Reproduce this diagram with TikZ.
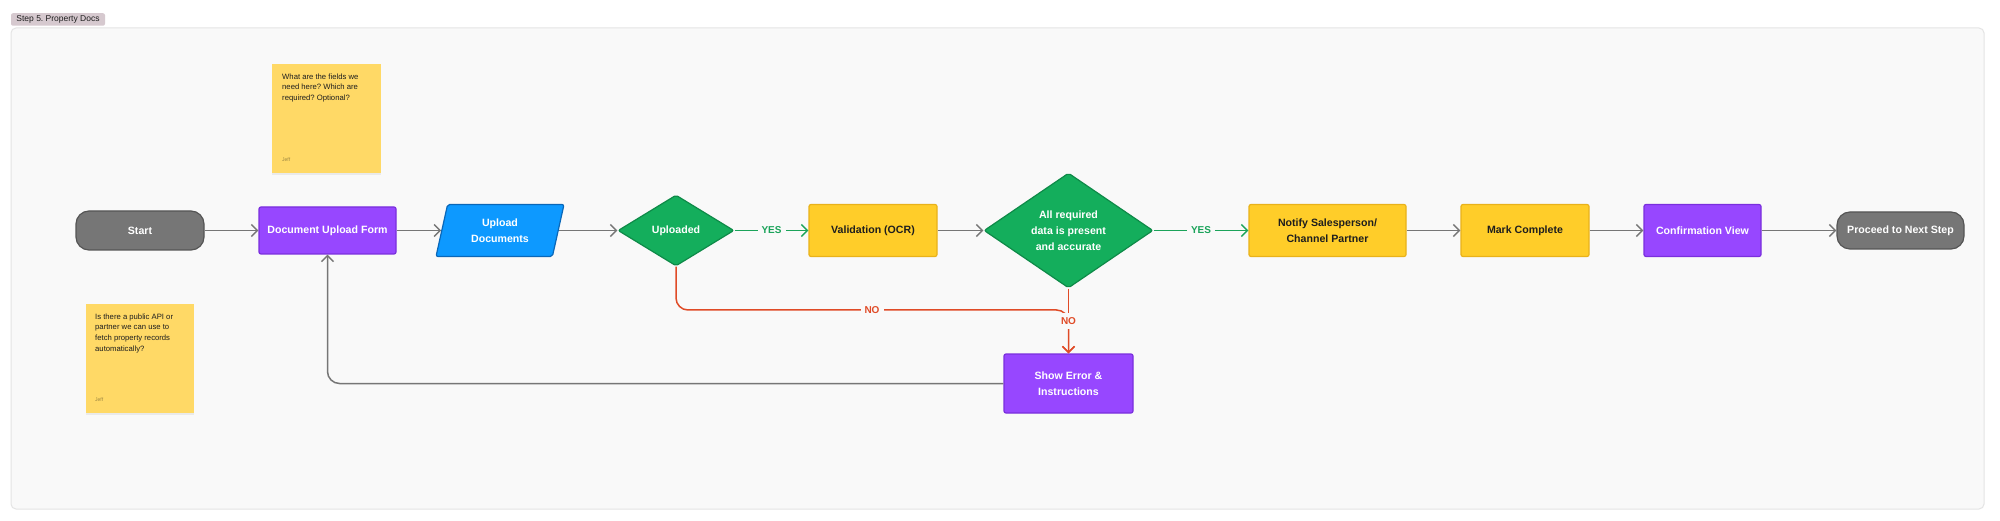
\documentclass[tikz,border=0pt]{standalone}
\usepackage{fontspec}
\setmainfont{Liberation Sans}
\usetikzlibrary{shapes.geometric,arrows.meta,shadows}
\frenchspacing
\definecolor{framefill}{HTML}{F9F9F9}
\definecolor{framedraw}{HTML}{E4E4E4}
\definecolor{lblfill}{HTML}{D6C9CF}
\definecolor{txtdark}{HTML}{1E1E1E}
\definecolor{termfill}{HTML}{767676}
\definecolor{termdraw}{HTML}{555555}
\definecolor{purpfill}{HTML}{9747FF}
\definecolor{purpdraw}{HTML}{7A2FDD}
\definecolor{yelfill}{HTML}{FFCD29}
\definecolor{yeldraw}{HTML}{E9B21A}
\definecolor{bluefill}{HTML}{0D99FF}
\definecolor{bluedraw}{HTML}{0A67B8}
\definecolor{grnfill}{HTML}{14AE5C}
\definecolor{grndraw}{HTML}{0E8A48}
\definecolor{grnline}{HTML}{1BA35A}
\definecolor{redline}{HTML}{E04B27}
\definecolor{arrgray}{HTML}{767676}
\definecolor{stickyfill}{HTML}{FFD966}
\definecolor{jeffcol}{HTML}{9A8440}
\tikzset{
  base/.style={font=\bfseries\fontsize{10.6}{16}\selectfont, align=center, line width=1.2pt, inner sep=0pt},
  termbox/.style={base, rounded corners=13pt, fill=termfill, draw=termdraw, text=white},
  purpbox/.style={base, rounded corners=2pt, fill=purpfill, draw=purpdraw, text=white},
  yelbox/.style={base, rounded corners=2pt, fill=yelfill, draw=yeldraw, text=txtdark},
  parabox/.style={base, trapezium, trapezium left angle=64, trapezium right angle=116,
     trapezium stretches body, rounded corners=2pt, fill=bluefill, draw=bluedraw, text=white},
  decision/.style={base, diamond, rounded corners=2pt, fill=grnfill, draw=grndraw, text=white},
  sticky/.style={fill=stickyfill, draw=none, inner sep=0pt,
     drop shadow={opacity=0.12, shadow xshift=0pt, shadow yshift=-2pt}},
  stickytext/.style={font=\fontsize{7.7}{10.7}\selectfont, text=txtdark, align=left, inner sep=0pt, anchor=north west},
  jefftext/.style={font=\fontsize{5}{6}\selectfont, text=jeffcol, inner sep=0pt, anchor=west},
  flow/.style={draw=arrgray, line width=1.5pt, -{Straight Barb[length=6pt,width=12pt,line width=1.5pt]}},
  yesflow/.style={flow, draw=grnline},
  noflow/.style={flow, draw=redline},
  yeslbl/.style={font=\bfseries\fontsize{10}{12}\selectfont, text=grnline, fill=framefill, inner sep=4pt},
  nolbl/.style={font=\bfseries\fontsize{10}{12}\selectfont, text=redline, fill=framefill, inner sep=4pt},
}
\begin{document}
\begin{tikzpicture}[x=1pt,y=-1pt]
\useasboundingbox (0,0) rectangle (2000,521);
\fill[white] (0,0) rectangle (2000,521);
% frame and title
\draw[fill=framefill, draw=framedraw, line width=1pt, rounded corners=5pt] (11,28) rectangle (1984,509);
\node[fill=lblfill, rounded corners=2pt, minimum width=94pt, minimum height=12.5pt, inner sep=0pt,
      font=\fontsize{8.5}{10}\selectfont, text=txtdark] (title) at (58,19.5) {Step 5. Property Docs};
% sticky notes
\node[sticky, minimum width=109pt, minimum height=109pt] (note1) at (326.5,118.5) {};
\node[stickytext] (note1t) at (282,73.5) {What are the fields we\\need here? Which are\\required? Optional?};
\node[jefftext] (note1j) at (282,160) {Jeff};
\node[sticky, minimum width=108pt, minimum height=109pt] (note2) at (140,358.5) {};
\node[stickytext] (note2t) at (95,313.5) {Is there a public API or\\partner we can use to\\fetch property records\\automatically?};
\node[jefftext] (note2j) at (95,400) {Jeff};
% main flow
\node[termbox, minimum width=128pt, minimum height=39pt] (start) at (140,230.5) {Start};
\node[purpbox, minimum width=137pt, minimum height=47pt] (form) at (327.5,230.5) {Document Upload Form};
\node[parabox, minimum width=128pt, minimum height=52pt] (upl) at (500,230.5) {Upload\\Documents};
\node[decision, minimum width=116pt, minimum height=71pt] (up) at (676,230.5) {Uploaded};
\node[yelbox, minimum width=128pt, minimum height=52pt] (val) at (873,230.5) {Validation (OCR)};
\node[decision, minimum width=169pt, minimum height=115pt] (chk) at (1068.5,230.5) {All required\\data is present\\and accurate};
\node[yelbox, minimum width=157pt, minimum height=52pt] (notify) at (1327.5,230.5) {Notify Salesperson/\\Channel Partner};
\node[yelbox, minimum width=128pt, minimum height=52pt] (mark) at (1525,230.5) {Mark Complete};
\node[purpbox, minimum width=117pt, minimum height=52pt] (conf) at (1702.5,230.5) {Confirmation View};
\node[termbox, minimum width=127pt, minimum height=37pt] (proc) at (1900.5,230.5) {Proceed to Next Step};
\node[purpbox, minimum width=129pt, minimum height=59pt] (err) at (1068.5,383.5) {Show Error \&\\Instructions};
% connectors
\draw[flow] (start) -- (form);
\draw[flow] (form) -- (upl.left side);
\draw[flow] (upl.right side) -- (up);
\draw[yesflow] (up) -- node[yeslbl] {YES} (val);
\draw[flow] (val) -- (chk);
\draw[yesflow] (chk) -- node[yeslbl] {YES} (notify);
\draw[flow] (notify) -- (mark);
\draw[flow] (mark) -- (conf);
\draw[flow] (conf) -- (proc);
\coordinate (nobend) at (1068.5,310);
\draw[noflow, rounded corners=12pt] (up.south) |- (nobend) -- (err.north);
\node[nolbl] (no1) at (872,310) {NO};
\draw[noflow] (chk.south) -- node[nolbl] {NO} (err.north);
\draw[flow, rounded corners=12pt] (err.west) -| (form.south);
\end{tikzpicture}
\end{document}
